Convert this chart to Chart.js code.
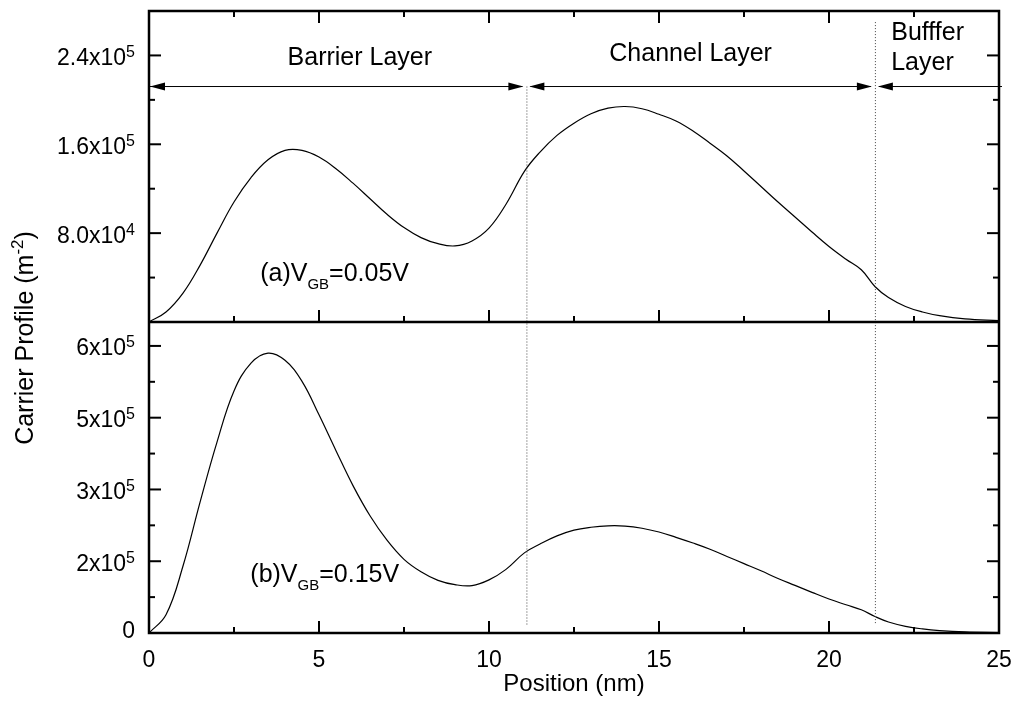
<!DOCTYPE html>
<html>
<head>
<meta charset="utf-8">
<script src="https://cdn.jsdelivr.net/npm/chart.js@4.4.1/dist/chart.umd.min.js"></script>
<style>
  body { margin: 0; background: #fff; }
  canvas { display: block; }
</style>
</head>
<body>
<canvas id="profileChart" width="1016" height="718"></canvas>
<script>
// position along the stack (nm)
const positions = [0, 0.5, 1, 1.5, 2, 2.5, 3, 3.5, 4, 4.5,
    5, 5.5, 6, 6.5, 7, 7.5, 8, 8.5, 9, 9.5,
    10, 10.5, 11.05, 11.5, 12, 12.5, 13, 13.5, 14, 14.5,
    15, 15.5, 16, 16.5, 17, 17.5, 18, 18.5, 19, 19.5,
    20, 20.5, 20.95, 21.35, 21.75, 22.25, 22.75, 23.25, 24, 25];

// (a) VGB = 0.05V, carrier profile (m^-2)
const carrierA = [0, 9e3, 26e3, 51e3, 80e3, 108e3, 130e3, 146e3, 154.5e3, 154.5e3,
    148.5e3, 138e3, 125e3, 111e3, 97e3, 85e3, 76e3, 70.5e3, 68.5e3, 73e3,
    84.5e3, 106e3, 136e3, 153e3, 168e3, 179e3, 187.5e3, 192.5e3, 194e3, 192e3,
    187e3, 181e3, 172e3, 161e3, 149.5e3, 136e3, 122e3, 108e3, 94.5e3, 81e3,
    68e3, 56.5e3, 47e3, 32e3, 22e3, 14e3, 9e3, 5.7e3, 2.8e3, 1.2e3];

// (b) VGB = 0.15V
const carrierB = [0, 38e3, 140e3, 273e3, 399e3, 506e3, 564e3, 585e3, 570e3, 526e3,
    456e3, 381e3, 308e3, 245e3, 194e3, 154e3, 128e3, 110e3, 101e3, 99e3,
    111e3, 133e3, 168e3, 186e3, 203e3, 215e3, 221e3, 224e3, 223.5e3, 219e3,
    211e3, 200e3, 188e3, 175e3, 160e3, 145e3, 130e3, 114e3, 99.5e3, 85e3,
    71e3, 59e3, 48.5e3, 34.5e3, 23e3, 14e3, 8.5e3, 5e3, 2.2e3, 0.8e3];

const xTickValues = [0, 5, 10, 15, 20, 25];
const xTickLabels = ['0', '5', '10', '15', '20', '25'];

const topTickValues = [80000, 160000, 240000];
const topTickLabels = ['8.0x10', '1.6x10', '2.4x10'];
const topTickExps = ['4', '5', '5'];

const botTickValues = [0, 150000, 300000, 450000, 600000];
const botTickLabels = ['0', '2x10', '3x10', '5x10', '6x10'];
const botTickExps = ['', '5', '5', '5', '5'];

const layerEdges = [0, 11.1, 21.35, 25];
const layerNames = ['Barrier Layer', 'Channel Layer', 'Bufffer Layer'];

const FONT = '"Liberation Sans", Arial, sans-serif';

function text(ctx, s, x, y, size, align) {
    ctx.font = size + 'px ' + FONT;
    ctx.textAlign = align || 'left';
    ctx.textBaseline = 'alphabetic';
    ctx.fillText(s, x, y);
}

function width(ctx, s, size) {
    ctx.font = size + 'px ' + FONT;
    return ctx.measureText(s).width;
}

// "2.4x10" + raised exponent, right aligned
function expLabel(ctx, main, exp, right, base) {
    const w1 = width(ctx, main, 23);
    const w2 = exp ? width(ctx, exp, 16) : 0;
    text(ctx, main, right - w1 - w2, base, 23);
    if (exp) text(ctx, exp, right - w2, base - 8, 16);
}

function seg(ctx, x1, y1, x2, y2) {
    ctx.beginPath();
    ctx.moveTo(x1, y1);
    ctx.lineTo(x2, y2);
    ctx.stroke();
}

function head(ctx, tip, y, dir) {
    ctx.beginPath();
    ctx.moveTo(tip, y);
    ctx.lineTo(tip - dir * 15, y - 4);
    ctx.lineTo(tip - dir * 15, y + 4);
    ctx.closePath();
    ctx.fill();
}

const framePlugin = {
    id: 'frame',
    afterDatasetsDraw(chart) {
        const ctx = chart.ctx;
        const a = chart.chartArea;
        const xs = chart.scales.x, yt = chart.scales.yTop, yb = chart.scales.yBot;
        const mid = yt.getPixelForValue(0);
        ctx.save();
        ctx.fillStyle = '#000';
        ctx.strokeStyle = '#000';

        // layer boundaries (dotted)
        ctx.save();
        ctx.strokeStyle = '#444';
        ctx.lineWidth = 1;
        ctx.setLineDash([1, 2]);
        const arrowY = yt.getPixelForValue(212000);
        seg(ctx, xs.getPixelForValue(layerEdges[1]) + 0.5, arrowY, xs.getPixelForValue(layerEdges[1]) + 0.5, yb.getPixelForValue(17000));
        seg(ctx, xs.getPixelForValue(layerEdges[2]) + 0.5, yt.getPixelForValue(270000), xs.getPixelForValue(layerEdges[2]) + 0.5, yb.getPixelForValue(17000));
        ctx.restore();

        // layer arrows
        ctx.lineWidth = 1;
        const e0 = xs.getPixelForValue(layerEdges[0]);
        const e1 = xs.getPixelForValue(layerEdges[1]);
        const e2 = xs.getPixelForValue(layerEdges[2]);
        seg(ctx, e0, arrowY, e1 - 4, arrowY);
        head(ctx, e0 + 1, arrowY, -1);
        head(ctx, e1 - 3, arrowY, 1);
        seg(ctx, e1 + 4, arrowY, e2 - 4, arrowY);
        head(ctx, e1 + 3, arrowY, -1);
        head(ctx, e2 - 3, arrowY, 1);
        seg(ctx, e2 + 4, arrowY, a.right + 3, arrowY);
        head(ctx, e2 + 3, arrowY, -1);

        // layer names
        text(ctx, layerNames[0], xs.getPixelForValue(6.2), yt.getPixelForValue(231000), 25, 'center');
        text(ctx, layerNames[1], xs.getPixelForValue(15.93), yt.getPixelForValue(235000), 25, 'center');
        const buf = layerNames[2].split(' ');
        text(ctx, buf[0], xs.getPixelForValue(21.83), yt.getPixelForValue(253700), 25, 'left');
        text(ctx, buf[1], xs.getPixelForValue(21.83), yt.getPixelForValue(226800), 25, 'left');

        // curve labels with subscript
        [['(a)V', '=0.05V', 3.27, yt.getPixelForValue(36500)],
         ['(b)V', '=0.15V', 2.98, yb.getPixelForValue(107000)]].forEach(l => {
            let x = xs.getPixelForValue(l[2]);
            const base = l[3];
            text(ctx, l[0], x, base, 25);
            x += width(ctx, l[0], 25);
            text(ctx, 'GB', x, base + 8, 15);
            x += width(ctx, 'GB', 15);
            text(ctx, l[1], x, base, 25);
        });

        // frame and panel divider
        ctx.lineWidth = 2.5;
        ctx.strokeRect(a.left, a.top, a.right - a.left, a.bottom - a.top);
        seg(ctx, a.left, mid, a.right, mid);

        // inward ticks
        ctx.lineWidth = 2;
        for (let i = 0; i <= 10; i++) {
            const px = xs.getPixelForValue(i * 2.5);
            const len = i % 2 === 0 ? 12 : 6;
            seg(ctx, px, a.top, px, a.top + len);
            seg(ctx, px, mid, px, mid - len);
            seg(ctx, px, a.bottom, px, a.bottom - len);
        }
        for (let i = 1; i <= 7; i++) {
            const py = yt.getPixelForValue(i * 40000);
            const len = i % 2 === 0 ? 12 : 6;
            seg(ctx, a.left, py, a.left + len, py);
            seg(ctx, a.right, py, a.right - len, py);
        }
        for (let i = 1; i <= 8; i++) {
            const py = yb.getPixelForValue(i * 75000);
            const len = i % 2 === 0 ? 12 : 6;
            seg(ctx, a.left, py, a.left + len, py);
            seg(ctx, a.right, py, a.right - len, py);
        }

        // tick labels
        xTickValues.forEach((v, i) => {
            text(ctx, xTickLabels[i], xs.getPixelForValue(v), a.bottom + 34, 23, 'center');
        });
        topTickValues.forEach((v, i) => {
            expLabel(ctx, topTickLabels[i], topTickExps[i], a.left - 14, yt.getPixelForValue(v) + 9.5);
        });
        botTickValues.forEach((v, i) => {
            expLabel(ctx, botTickLabels[i], botTickExps[i], a.left - 14, yb.getPixelForValue(v) + (v === 0 ? 5 : 9.5));
        });

        // axis titles
        text(ctx, 'Position (nm)', (a.left + a.right) / 2, a.bottom + 58, 24, 'center');

        ctx.save();
        ctx.translate(33, 338);
        ctx.rotate(-Math.PI / 2);
        const t1 = 'Carrier Profile (m', t2 = '-2', t3 = ')';
        const total = width(ctx, t1, 25) + width(ctx, t2, 17) + width(ctx, t3, 25);
        let x = -total / 2;
        text(ctx, t1, x, 0, 25);
        x += width(ctx, t1, 25);
        text(ctx, t2, x, -10, 17);
        x += width(ctx, t2, 17);
        text(ctx, t3, x, 0, 25);
        ctx.restore();

        ctx.restore();
    }
};

function series(values) {
    return positions.map((p, i) => ({ x: p, y: values[i] }));
}

const config = {
    type: 'line',
    data: {
        datasets: [
            {
                label: '(a) VGB=0.05V',
                data: series(carrierA),
                yAxisID: 'yTop',
                borderColor: '#000',
                borderWidth: 1.2,
                pointRadius: 0,
                fill: false,
                tension: 0.4
            },
            {
                label: '(b) VGB=0.15V',
                data: series(carrierB),
                yAxisID: 'yBot',
                borderColor: '#000',
                borderWidth: 1.2,
                pointRadius: 0,
                fill: false,
                tension: 0.4
            }
        ]
    },
    options: {
        responsive: false,
        animation: false,
        layout: { padding: { left: 149, right: 17, top: 11, bottom: 85 } },
        plugins: {
            legend: { display: false },
            tooltip: { enabled: false }
        },
        scales: {
            x: { type: 'linear', min: 0, max: 25, display: false },
            // top panel takes the upper half: 0 .. 2.8e5
            yTop: { type: 'linear', min: -280000, max: 280000, display: false },
            // bottom panel takes the lower half: 0 .. 6.5e5
            yBot: { type: 'linear', min: 0, max: 1300000, display: false }
        }
    },
    plugins: [framePlugin]
};

new Chart(document.getElementById('profileChart').getContext('2d'), config);
</script>
</body>
</html>
